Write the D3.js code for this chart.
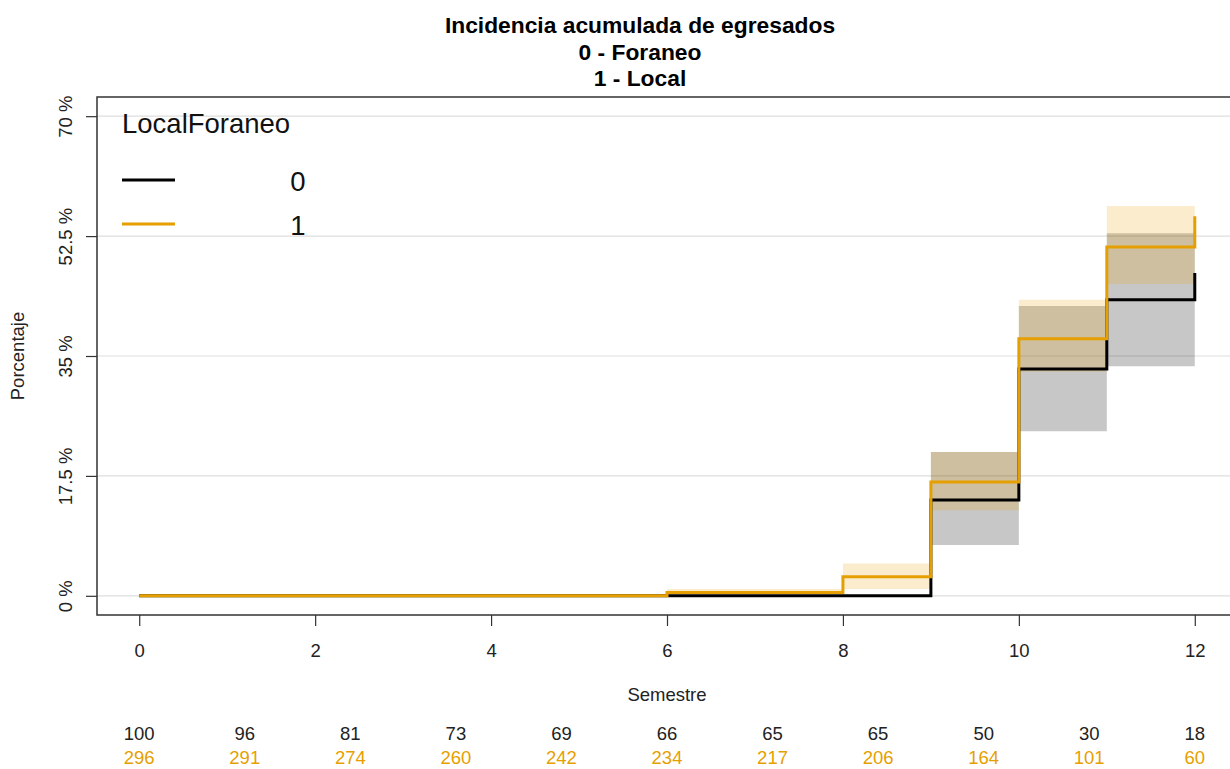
<!DOCTYPE html>
<html>
<head>
<meta charset="utf-8">
<script src="https://cdn.jsdelivr.net/npm/d3@7"></script>
<style>
  body { margin: 0; background: #fff; }
  svg { font-family: "Liberation Sans", Arial, sans-serif; }
</style>
</head>
<body>
<div id="chart"></div>
<script>
// step times of the cumulative incidence curves
var times = [0, 6, 8, 9, 10, 11, 12];

// group 0 (Foraneo)
var est0 = [0, 0, 0, 14.0, 33.1, 43.2, 47.1];
var lo0  = [0, 0, 0, 7.4, 24.0, 33.5, 33.5];
var hi0  = [0, 0, 0, 21.0, 42.3, 52.9, 52.9];

// group 1 (Local)
var est1 = [0, 0.5, 2.8, 16.6, 37.5, 50.9, 55.4];
var lo1  = [0, 0, 1.0, 12.5, 32.7, 45.5, 45.5];
var hi1  = [0, 1.0, 4.7, 21.0, 43.2, 56.9, 56.9];

var yTicks = [0, 17.5, 35, 52.5, 70];
var xTicks = [0, 2, 4, 6, 8, 10, 12];

// number at risk table
var riskTimes = [0, 1.2, 2.4, 3.6, 4.8, 6, 7.2, 8.4, 9.6, 10.8, 12];
var risk0 = [100, 96, 81, 73, 69, 66, 65, 65, 50, 30, 18];
var risk1 = [296, 291, 274, 260, 242, 234, 217, 206, 164, 101, 60];

var groups = ["0", "1"];
var titleLines = ["Incidencia acumulada de egresados", "0 - Foraneo", "1 - Local"];

var width = 1230, height = 769;
var orange = "#E69F00";

var svg = d3.select("#chart").append("svg")
    .attr("width", width)
    .attr("height", height);

var x = d3.scaleLinear().domain([-0.48, 12.48]).range([97, 1237]);
var y = d3.scaleLinear().domain([-2.8, 72.8]).range([615, 97]);

// title
svg.append("g").selectAll("text")
    .data(titleLines)
    .enter().append("text")
    .attr("x", 640)
    .attr("y", function (d, i) { return 33 + i * 26.5; })
    .attr("text-anchor", "middle")
    .style("font-size", "22.8px")
    .style("font-weight", "bold")
    .text(function (d) { return d; });

// grid
svg.append("g").selectAll("line")
    .data(yTicks)
    .enter().append("line")
    .attr("x1", 97).attr("x2", 1237)
    .attr("y1", function (d) { return y(d); })
    .attr("y2", function (d) { return y(d); })
    .attr("stroke", "#dedede")
    .attr("stroke-width", 1.2);

var pts = function (est, lo, hi) {
    return times.map(function (t, i) { return { t: t, e: est[i], lo: lo[i], hi: hi[i] }; });
};
var d0 = pts(est0, lo0, hi0);
var d1 = pts(est1, lo1, hi1);

var band = d3.area()
    .curve(d3.curveStepAfter)
    .x(function (d) { return x(d.t); })
    .y0(function (d) { return y(d.lo); })
    .y1(function (d) { return y(d.hi); });

var line = d3.line()
    .curve(d3.curveStepAfter)
    .x(function (d) { return x(d.t); })
    .y(function (d) { return y(d.e); });

svg.append("path").datum(d0).attr("d", band)
    .attr("fill", "#000").attr("fill-opacity", 0.22);
svg.append("path").datum(d1).attr("d", band)
    .attr("fill", orange).attr("fill-opacity", 0.2);

svg.append("path").datum(d0).attr("d", line)
    .attr("fill", "none").attr("stroke", "#000").attr("stroke-width", 3);
svg.append("path").datum(d1).attr("d", line)
    .attr("fill", "none").attr("stroke", orange).attr("stroke-width", 3);

// box
svg.append("rect")
    .attr("x", 97).attr("y", 97)
    .attr("width", 1140).attr("height", 518)
    .attr("fill", "none").attr("stroke", "#333").attr("stroke-width", 1.5);

// y axis
var yAxis = svg.append("g")
    .attr("transform", "translate(97,0)")
    .call(d3.axisLeft(y).tickValues(yTicks).tickSize(11).tickFormat(function (d) { return d + " %"; }));
yAxis.select(".domain").remove();
yAxis.selectAll("line").attr("stroke", "#333").attr("stroke-width", 1.2);
yAxis.selectAll("text")
    .attr("transform", "translate(-25,0) rotate(-90)")
    .attr("x", 0).attr("y", 0).attr("dy", 0)
    .attr("text-anchor", "middle")
    .attr("fill", "#222")
    .style("font-size", "18.5px")
    .style("font-family", "'Liberation Sans', Arial, sans-serif");

// x axis
var xAxis = svg.append("g")
    .attr("transform", "translate(0,615)")
    .call(d3.axisBottom(x).tickValues(xTicks).tickSize(11).tickFormat(d3.format("d")));
xAxis.select(".domain").remove();
xAxis.selectAll("line").attr("stroke", "#333").attr("stroke-width", 1.2);
xAxis.selectAll("text")
    .attr("y", 42).attr("dy", 0)
    .attr("fill", "#222")
    .style("font-size", "18.5px")
    .style("font-family", "'Liberation Sans', Arial, sans-serif");

// axis titles
svg.append("text")
    .attr("transform", "translate(24,356) rotate(-90)")
    .attr("text-anchor", "middle")
    .style("font-size", "18.5px")
    .attr("fill", "#222")
    .text("Porcentaje");

svg.append("text")
    .attr("x", 667).attr("y", 701)
    .attr("text-anchor", "middle")
    .style("font-size", "18.5px")
    .attr("fill", "#222")
    .text("Semestre");

// number at risk
svg.append("g").selectAll("text")
    .data(risk0)
    .enter().append("text")
    .attr("x", function (d, i) { return x(riskTimes[i]); })
    .attr("y", 740)
    .attr("text-anchor", "middle")
    .style("font-size", "18.5px")
    .attr("fill", "#222")
    .text(function (d) { return d; });

svg.append("g").selectAll("text")
    .data(risk1)
    .enter().append("text")
    .attr("x", function (d, i) { return x(riskTimes[i]); })
    .attr("y", 764)
    .attr("text-anchor", "middle")
    .style("font-size", "18.5px")
    .attr("fill", orange)
    .text(function (d) { return d; });

// legend
svg.append("text")
    .attr("x", 122).attr("y", 133)
    .style("font-size", "27.5px")
    .attr("fill", "#111")
    .text("LocalForaneo");

var legend = svg.selectAll(".legend")
    .data(groups)
    .enter().append("g")
    .attr("class", "legend")
    .attr("transform", function (d, i) { return "translate(0," + (180 + i * 44) + ")"; });

legend.append("line")
    .attr("x1", 122).attr("x2", 175)
    .attr("stroke", function (d, i) { return i === 0 ? "#000" : orange; })
    .attr("stroke-width", 3);

legend.append("text")
    .attr("x", 298).attr("y", 11)
    .attr("text-anchor", "middle")
    .style("font-size", "27.5px")
    .attr("fill", "#111")
    .text(function (d) { return d; });
</script>
</body>
</html>
